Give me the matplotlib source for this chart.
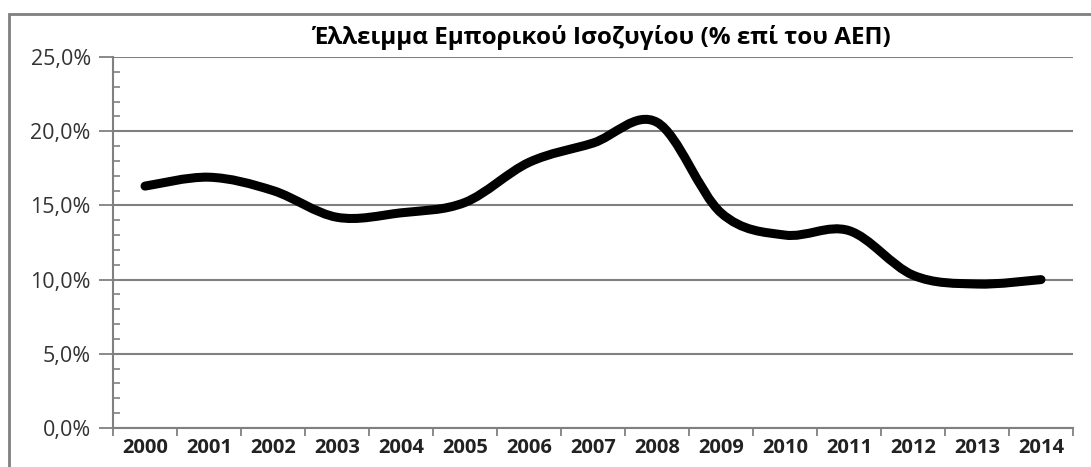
import numpy as np
import matplotlib.pyplot as plt
from matplotlib.path import Path
from matplotlib.patches import PathPatch, Rectangle
from matplotlib.ticker import MultipleLocator, FuncFormatter

# data (% of GDP)
years = [str(y) for y in range(2000, 2015)]
deficit = [16.3, 16.9, 16.0, 14.2, 14.5, 15.2, 17.9, 19.2, 20.6,
           14.5, 13.0, 13.3, 10.3, 9.7, 10.0]
title = "Έλλειμμα Εμπορικού Ισοζυγίου (% επί του ΑΕΠ)"


def smooth_path(xs, ys):
    # Excel-style smoothed line: cubic bezier through every point
    pts = np.column_stack([xs, ys]).astype(float)
    ext = np.vstack([pts[0], pts, pts[-1]])
    verts = [pts[0]]
    codes = [Path.MOVETO]
    for i in range(len(pts) - 1):
        p0, p1, p2, p3 = ext[i], ext[i + 1], ext[i + 2], ext[i + 3]
        c1 = p1 + (p2 - p0) / 6.0
        c2 = p2 - (p3 - p1) / 6.0
        verts += [c1, c2, p2]
        codes += [Path.CURVE4] * 3
    return Path(verts, codes)


def main():
    plt.rcParams['font.family'] = ['Open Sans', 'DejaVu Sans']
    fig = plt.figure(figsize=(10.91, 4.67), dpi=100)
    ax = fig.add_axes([113 / 1091, 1 - 428 / 467, 960 / 1091, 371 / 467])

    x = np.arange(len(years))
    ax.add_patch(PathPatch(smooth_path(x, deficit), facecolor='none',
                           edgecolor='black', lw=6.5, capstyle='round',
                           joinstyle='round', zorder=3))

    ax.set_xlim(-0.5, len(years) - 0.5)
    ax.set_ylim(0, 25)

    # y axis
    ax.yaxis.set_major_locator(MultipleLocator(5))
    ax.yaxis.set_minor_locator(MultipleLocator(1))
    ax.yaxis.set_major_formatter(FuncFormatter(lambda v, p: f"{v:.1f}%".replace('.', ',')))
    ax.tick_params(axis='y', which='major', length=10, width=1.3, color='#808080',
                   labelsize=15.5, labelcolor='#333333', pad=6)
    ax.tick_params(axis='y', which='minor', direction='in', length=5, width=1.2,
                   color='#808080')
    ax.grid(axis='y', which='major', color='#808080', lw=1.5)

    # x axis: labels at centres, ticks on category boundaries
    ax.set_xticks(x)
    ax.set_xticklabels(years, fontweight='bold')
    ax.set_xticks(np.arange(-0.5, len(years)), minor=True)
    ax.tick_params(axis='x', which='major', length=0, labelsize=14.5,
                   labelcolor='#222222', pad=7)
    ax.tick_params(axis='x', which='minor', length=6, width=1.3, color='#808080')

    for side in ['top', 'right']:
        ax.spines[side].set_visible(False)
    for side in ['left', 'bottom']:
        ax.spines[side].set_color('#808080')
        ax.spines[side].set_linewidth(1.5)

    fig.text(602 / 1091, 1 - 38 / 467, title, ha='center', va='center',
             fontsize=17.5, fontweight='bold')

    # outer chart frame (runs off the right and bottom of the picture)
    fig.patches.append(Rectangle((9 / 1091, -0.05), 1.2, 1 - 14 / 467 + 0.05,
                                 transform=fig.transFigure, fill=False,
                                 edgecolor='#7f7f7f', lw=2))

    fig.savefig("out.png", dpi=100)
    plt.close(fig)


if __name__ == "__main__":
    main()
